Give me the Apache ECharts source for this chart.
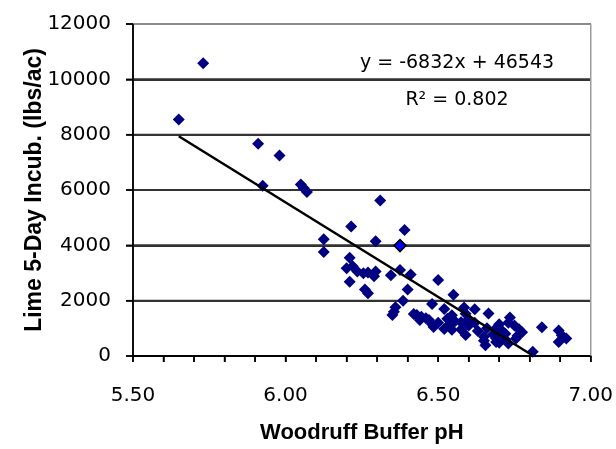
<!DOCTYPE html>
<html>
<head>
<meta charset="utf-8">
<script src="https://cdn.jsdelivr.net/npm/echarts@6/dist/echarts.min.js"></script>
<style>
  html, body { margin: 0; padding: 0; background: #fff; }
  #chart { width: 616px; height: 449px; }
</style>
</head>
<body>
<div id="chart"></div>
<script>
// Woodruff buffer pH vs lime requirement (5-day incubation)
var phValues = [
  5.65, 5.73, 5.91, 5.98, 5.925, 6.05, 6.06, 6.07, 6.125, 6.125,
  6.31, 6.215, 6.295, 6.39, 6.21, 6.20, 6.22, 6.235, 6.255, 6.27,
  6.295, 6.29, 6.21, 6.26, 6.27, 6.345, 6.375, 6.41, 6.40, 6.385,
  6.36, 6.355, 6.35, 6.50, 6.55, 6.48, 6.42, 6.445, 6.46, 6.48,
  6.485, 6.52, 6.545, 6.555, 6.535, 6.545, 6.585, 6.59, 6.60, 6.575,
  6.59, 6.575, 6.62, 6.665, 6.735, 6.70, 6.75, 6.765, 6.71, 6.66,
  6.68, 6.76, 6.72, 6.65, 6.63, 6.60, 6.81, 6.84, 6.895, 6.905,
  6.92, 6.895, 6.65, 6.70, 6.69, 6.73, 6.755, 6.775, 6.655, 6.52,
  6.50, 6.44, 6.43, 6.53, 6.47, 6.69, 6.72, 6.73, 6.69, 6.62
]
var limeValues = [
  8550, 10580, 7670, 7250, 6150, 6200, 6060, 5930, 4220, 3760,
  5620, 4680, 4150, 4550, 3550, 3170, 3240, 3050, 2990, 3020,
  3050, 2880, 2680, 2400, 2270, 2920, 3110, 2950, 2400, 2000,
  1760, 1600, 1480, 2750, 2210, 1880, 1520, 1420, 1360, 1150,
  1050, 1700, 1470, 1260, 1120, 950, 1750, 1530, 1330, 1220,
  760, 960, 1690, 1540, 1390, 1150, 1100, 970, 900, 1000,
  780, 730, 600, 700, 900, 1100, 150, 1040, 920, 750,
  630, 510, 550, 480, 640, 450, 630, 860, 390, 980,
  1200, 1300, 1480, 1350, 1300, 1000, 800, 1200, 510, 1200
]
// the one point Excel shows as selected
var selectedPoint = [6.375, 3990]

// linear trendline y = -6832x + 46543, R² = 0.802
var slope = -6832
var intercept = 46543
var rSquared = 0.802
var trendRange = [5.65, 6.81]

var xTicks = { min: 5.5, max: 7.0, interval: 0.1 }
var yTicks = { min: 0, max: 12000, interval: 2000 }

var points = phValues.map(function (x, i) { return [x, limeValues[i]] })
var trendLine = trendRange.map(function (x) { return [x, slope * x + intercept] })

var myChart = echarts.init(document.getElementById('chart'))
var tickFont = 'DejaVu Sans'
var titleFont = 'Liberation Sans'

myChart.setOption({
  animation: false,
  grid: {
    left: 133,
    right: 23,
    top: 24,
    bottom: 88
  },
  xAxis: {
    type: 'value',
    min: xTicks.min,
    max: xTicks.max,
    interval: xTicks.interval,
    name: 'Woodruff Buffer pH',
    nameLocation: 'middle',
    nameGap: 66,
    nameTextStyle: { fontFamily: titleFont, fontWeight: 'bold', fontSize: 22, color: '#000' },
    axisLine: { show: true, onZero: false, lineStyle: { color: '#000', width: 1.5 } },
    axisTick: { show: true, length: 6, lineStyle: { color: '#000', width: 1.5 } },
    splitLine: { show: false },
    axisLabel: {
      margin: 30,
      fontFamily: tickFont,
      fontSize: 20,
      color: '#000',
      showMinLabel: true,
      showMaxLabel: true,
      hideOverlap: false,
      interval: 0,
      // label only every half unit, ticks every 0.1
      formatter: function (v) {
        var half = v * 2
        return Math.abs(half - Math.round(half)) < 1e-6 ? v.toFixed(2) : ''
      }
    }
  },
  yAxis: {
    type: 'value',
    min: yTicks.min,
    max: yTicks.max,
    interval: yTicks.interval,
    name: 'Lime 5-Day Incub. (lbs/ac)',
    nameLocation: 'middle',
    nameGap: 87,
    nameMoveOverlap: false,
    nameTextStyle: { fontFamily: titleFont, fontWeight: 'bold', fontSize: 23, color: '#000' },
    axisLine: { show: true, lineStyle: { color: '#000', width: 1.5 } },
    axisTick: { show: true, length: 7, lineStyle: { color: '#000', width: 1.5 } },
    splitLine: { show: true, lineStyle: { color: '#333', width: 2 } },
    axisLabel: {
      margin: 22,
      fontFamily: tickFont,
      fontSize: 20,
      color: '#000',
      formatter: function (v) { return String(v) }
    }
  },
  series: [
    {
      name: 'data',
      type: 'scatter',
      symbol: 'diamond',
      symbolSize: 12,
      itemStyle: { color: '#000080', opacity: 1 },
      data: points,
      z: 6
    },
    {
      name: 'selected',
      type: 'scatter',
      symbol: 'diamond',
      symbolSize: 12,
      itemStyle: { color: '#0000ff', borderColor: '#000', borderWidth: 1.5, opacity: 1 },
      data: [selectedPoint],
      z: 7
    },
    {
      name: 'trend',
      type: 'line',
      symbol: 'none',
      lineStyle: { color: '#000', width: 2.5 },
      data: trendLine,
      z: 8
    }
  ]
})

// frame: gridlines, axis lines, ticks and right border, placed through the axes' own scale
function px (x, y) {
  return myChart.convertToPixel({ xAxisIndex: 0, yAxisIndex: 0 }, [x, y])
}
function seg (a, b, color, width) {
  return {
    type: 'line',
    silent: true,
    z: 4,
    shape: { x1: a[0], y1: a[1], x2: b[0], y2: b[1] },
    style: { stroke: color, lineWidth: width }
  }
}
var frame = []
var nY = Math.round((yTicks.max - yTicks.min) / yTicks.interval)
for (var i = 0; i <= nY; i++) {
  var yv = yTicks.min + i * yTicks.interval
  var l = px(xTicks.min, yv)
  var r = px(xTicks.max, yv)
  if (i > 0) frame.push(seg(l, r, i === nY ? '#8a8a8a' : '#333', 2))
  frame.push(seg([l[0] - 7, l[1]], l, '#000', 1.5))
}
var nX = Math.round((xTicks.max - xTicks.min) / xTicks.interval)
for (var j = 0; j <= nX; j++) {
  var p = px(xTicks.min + j * xTicks.interval, yTicks.min)
  frame.push(seg(p, [p[0], p[1] + 6], '#000', 1.5))
}
var origin = px(xTicks.min, yTicks.min)
frame.push(seg(px(xTicks.max, yTicks.min), px(xTicks.max, yTicks.max), '#9a9a9a', 1.5))
frame.push(seg(origin, px(xTicks.max, yTicks.min), '#000', 1.5))
frame.push(seg(origin, px(xTicks.min, yTicks.max), '#000', 1.5))

// trendline equation and R²
frame.push({
  type: 'text',
  x: 457,
  y: 63,
  z: 9,
  style: {
    text: 'y = ' + slope + 'x + ' + intercept,
    fontFamily: tickFont,
    fontSize: 19,
    fill: '#000',
    align: 'center',
    verticalAlign: 'middle'
  }
})
frame.push({
  type: 'text',
  x: 457,
  y: 100,
  z: 9,
  style: {
    text: 'R² = ' + rSquared.toFixed(3),
    fontFamily: tickFont,
    fontSize: 19,
    fill: '#000',
    align: 'center',
    verticalAlign: 'middle'
  }
})
myChart.setOption({ graphic: frame })

window.addEventListener('resize', function () {
  myChart.resize()
})
</script>
</body>
</html>
